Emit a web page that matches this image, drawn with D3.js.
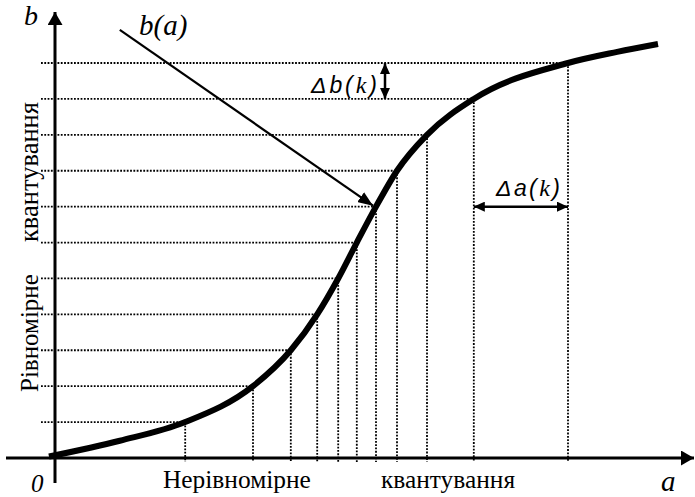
<!DOCTYPE html>
<html>
<head>
<meta charset="utf-8">
<script src="https://cdn.jsdelivr.net/npm/d3@7"></script>
<style>
  html, body { margin: 0; padding: 0; background: #fff; }
  svg { display: block; }
  .serif { font-family: "Liberation Serif", "Times New Roman", Times, serif; }
  .sans { font-family: "Liberation Sans", Arial, Helvetica, sans-serif; }
  .it { font-style: italic; }
</style>
</head>
<body>
<svg id="chart" width="695" height="497"></svg>
<script>
// Quantization levels of the output b (uniform) and the matching input thresholds a (non-uniform)
const bLevels = [1, 2, 3, 4, 5, 6, 7, 8, 9, 10, 11];
const aLevels = [2.17, 3.3, 3.93, 4.37, 4.72, 5.03, 5.35, 5.7, 6.2, 6.98, 8.55];

// Characteristic b(a): passes through every (aLevels[i], bLevels[i])
const curveA = [-0.1, 1.08, 2.17, 3.3, 3.93, 4.37, 4.72, 5.03, 5.35, 5.7, 6.2, 6.98, 8.55, 9.37, 10.05];
const curveB = [0.04, 0.48, 1, 2, 3, 4, 5, 6, 7, 8, 9, 10, 11, 11.31, 11.53];

// Axis and annotation texts
const axisLabelB = "b";
const axisLabelA = "a";
const originLabel = "0";
const curveLabel = "b(a)";
const xCaption = ["Нерівномірне", "квантування"];
const yCaption = ["Рівномірне", "квантування"];

const svg = d3.select("#chart");
const x = d3.scaleLinear().domain([0, 10]).range([55, 655]);
const y = d3.scaleLinear().domain([0, 11]).range([458, 63]);

const defs = svg.append("defs");
function marker(id, len, w) {
  defs.append("marker")
    .attr("id", id)
    .attr("viewBox", `0 ${-w / 2} ${len} ${w}`)
    .attr("refX", len).attr("refY", 0)
    .attr("markerWidth", len).attr("markerHeight", w)
    .attr("markerUnits", "userSpaceOnUse")
    .attr("orient", "auto-start-reverse")
    .append("path")
    .attr("d", `M0,${-w / 2}L${len},0L0,${w / 2}Z`)
    .attr("fill", "#000");
}
marker("axisHead", 13, 15);
marker("ptrHead", 15, 12);
marker("dimHead", 11, 10);

const dotted = "1.8,1.5";

// Guide lines: horizontal from the b axis to the curve, vertical from the curve down to the a axis
const levels = bLevels.map((b, i) => ({ a: aLevels[i], b }));
svg.append("g").selectAll("line").data(levels).join("line")
  .attr("x1", 41).attr("x2", d => x(d.a))
  .attr("y1", d => y(d.b)).attr("y2", d => y(d.b))
  .attr("stroke", "#000").attr("stroke-width", 1.8)
  .attr("stroke-dasharray", dotted);
svg.append("g").selectAll("line").data(levels).join("line")
  .attr("x1", d => x(d.a)).attr("x2", d => x(d.a))
  .attr("y1", d => y(d.b)).attr("y2", y(0) + 4)
  .attr("stroke", "#000").attr("stroke-width", 1.8)
  .attr("stroke-dasharray", dotted);

// Axes
svg.append("line")
  .attr("x1", 6).attr("x2", 694).attr("y1", y(0)).attr("y2", y(0))
  .attr("stroke", "#000").attr("stroke-width", 3)
  .attr("marker-end", "url(#axisHead)");
svg.append("line")
  .attr("x1", x(0)).attr("x2", x(0)).attr("y1", 483).attr("y2", 12)
  .attr("stroke", "#000").attr("stroke-width", 3)
  .attr("marker-end", "url(#axisHead)");

// The characteristic curve
const pts = curveA.map((a, i) => [a, curveB[i]]);
svg.append("path")
  .datum(pts)
  .attr("d", d3.line().x(d => x(d[0])).y(d => y(d[1])).curve(d3.curveMonotoneX))
  .attr("fill", "none").attr("stroke", "#000").attr("stroke-width", 6)
  .attr("stroke-linecap", "butt");

// Pointer from the curve label to the curve at the 7th level
const ptrStart = [1.08, 11.92];
const ptrTarget = levels[6];
svg.append("line")
  .attr("x1", x(ptrStart[0])).attr("y1", y(ptrStart[1]))
  .attr("x2", x(ptrTarget.a) - 3).attr("y2", y(ptrTarget.b) - 1)
  .attr("stroke", "#000").attr("stroke-width", 2.2)
  .attr("marker-end", "url(#ptrHead)");

// Δb(k): step between two neighbouring output levels
const dbX = x(5.5);
svg.append("line")
  .attr("x1", dbX).attr("x2", dbX)
  .attr("y1", y(bLevels[9])).attr("y2", y(bLevels[10]))
  .attr("stroke", "#000").attr("stroke-width", 2.5)
  .attr("marker-start", "url(#dimHead)").attr("marker-end", "url(#dimHead)");

// Δa(k): width of the matching input interval
svg.append("line")
  .attr("x1", x(aLevels[9])).attr("x2", x(aLevels[10]))
  .attr("y1", y(7)).attr("y2", y(7))
  .attr("stroke", "#000").attr("stroke-width", 2.5)
  .attr("marker-start", "url(#dimHead)").attr("marker-end", "url(#dimHead)");

// Labels
const t = svg.append("g").attr("fill", "#000");
t.append("text").text(axisLabelB).attr("class", "serif it")
  .attr("x", 24).attr("y", 25).attr("font-size", 28);
t.append("text").text(curveLabel).attr("class", "serif it")
  .attr("x", 139).attr("y", 35).attr("font-size", 29);
t.append("text").text(originLabel).attr("class", "serif it")
  .attr("x", 31).attr("y", 492).attr("font-size", 25);
t.append("text").text(axisLabelA).attr("class", "serif it")
  .attr("x", 661).attr("y", 491).attr("font-size", 29);

const db = t.append("text").attr("class", "sans it")
  .attr("x", 311).attr("y", 93).attr("font-size", 23)
  .attr("textLength", 66).attr("lengthAdjust", "spacing");
db.append("tspan").text("Δb(");
db.append("tspan").text("k").attr("class", "serif it").attr("font-size", 24);
db.append("tspan").text(")");

const da = t.append("text").attr("class", "sans it")
  .attr("x", 496).attr("y", 196).attr("font-size", 23)
  .attr("textLength", 64).attr("lengthAdjust", "spacing");
da.append("tspan").text("Δa(");
da.append("tspan").text("k").attr("class", "serif it").attr("font-size", 24);
da.append("tspan").text(")");

t.append("text").text(xCaption[0]).attr("class", "serif")
  .attr("x", 163).attr("y", 488).attr("font-size", 25.4);
t.append("text").text(xCaption[1]).attr("class", "serif")
  .attr("x", 381).attr("y", 488).attr("font-size", 25.4);

t.append("text").text(yCaption[0]).attr("class", "serif")
  .attr("transform", "translate(38,392) rotate(-90)").attr("font-size", 25);
t.append("text").text(yCaption[1]).attr("class", "serif")
  .attr("transform", "translate(38,242) rotate(-90)").attr("font-size", 26.5);
</script>
</body>
</html>
